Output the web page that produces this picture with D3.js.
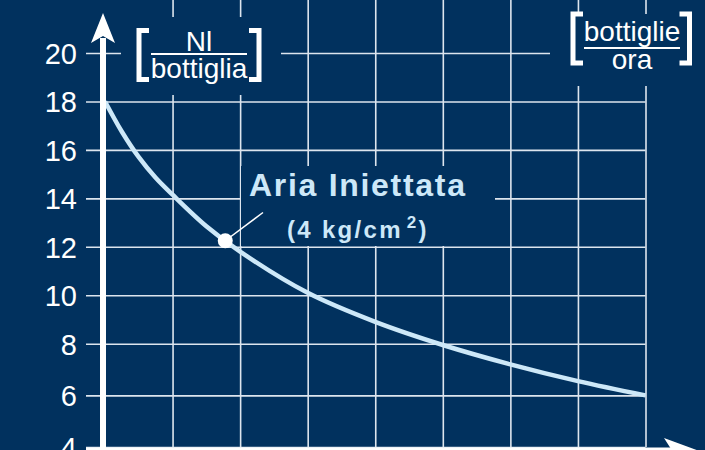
<!DOCTYPE html>
<html>
<head>
<meta charset="utf-8">
<script src="https://cdn.jsdelivr.net/npm/d3@7/dist/d3.min.js"></script>
<style>
  html, body { margin: 0; padding: 0; background: #01315e; }
  svg { display: block; }
  text { font-family: "Liberation Sans", Arial, Helvetica, sans-serif; }
</style>
</head>
<body>
<div id="chart"></div>
<script>
// tick values
var yTicks = [4, 6, 8, 10, 12, 14, 16, 18, 20];
var xGrid = [1, 2, 3, 4, 5, 6, 7, 8];

// curve values (Nl/bottiglia vs bottiglie/ora)
var curveX = [0, 0.25, 0.5, 0.75, 1, 1.5, 2, 3, 4, 5, 6, 7, 8];
var curveY = [18, 16.75, 15.7, 14.85, 14.15, 12.85, 11.8, 10.1, 8.9, 7.95, 7.2, 6.55, 6.0];

// highlighted point
var markX = [1.78];
var markY = [12.25];

var chart_width = 705;
var chart_height = 450;
var bg = '#01315e';
var grid_color = '#dde5ee';
var curve_color = '#cde8f8';

var svg = d3.select('#chart')
  .append('svg')
  .attr('width', chart_width)
  .attr('height', chart_height);

svg.append('rect')
  .attr('width', chart_width)
  .attr('height', chart_height)
  .attr('fill', bg);

// scales
var x_scale = d3.scaleLinear()
  .domain([0, 8])
  .range([105, 645.5]);

var y_scale = d3.scaleLinear()
  .domain([4, 8, 20])
  .range([447, 343.7, 53]);

// vertical grid
var x_grid = d3.axisBottom(x_scale)
  .tickValues(xGrid)
  .tickSize(-447)
  .tickFormat('');
svg.append('g')
  .attr('class', 'x-grid')
  .attr('transform', 'translate(0,447)')
  .call(x_grid)
  .call(function(g) { g.select('.domain').remove(); })
  .selectAll('line')
  .attr('stroke', grid_color)
  .attr('stroke-width', 1.6);

// horizontal grid + labels
var y_axis = d3.axisLeft(y_scale)
  .tickValues(yTicks)
  .tickSize(-(x_scale(8) - 86))
  .tickPadding(9);
var yg = svg.append('g')
  .attr('class', 'y-axis')
  .attr('transform', 'translate(86,0)')
  .call(y_axis);
yg.select('.domain').remove();
yg.selectAll('line')
  .attr('stroke', grid_color)
  .attr('stroke-width', 1.6);
yg.selectAll('text')
  .attr('fill', '#ffffff')
  .attr('font-size', 29)
  .attr('dy', '0.36em')
  .style('font-family', '"Liberation Sans", Arial, sans-serif');

// label background boxes (cover grid)
var boxes = svg.append('g').attr('fill', bg);
boxes.append('rect').attr('x', 121).attr('y', 17).attr('width', 160).attr('height', 78);
boxes.append('rect').attr('x', 550).attr('y', 14).attr('width', 155).attr('height', 72);
boxes.append('rect').attr('x', 241).attr('y', 166).attr('width', 254).attr('height', 80);

// curve
var line = d3.line()
  .x(function(d) { return x_scale(d[0]); })
  .y(function(d) { return y_scale(d[1]); })
  .curve(d3.curveCatmullRom.alpha(0.5));

svg.append('path')
  .datum(d3.zip(curveX, curveY))
  .attr('d', line)
  .attr('fill', 'none')
  .attr('stroke', curve_color)
  .attr('stroke-width', 4.5)
  .attr('stroke-linecap', 'butt');

// axes with arrows
var axes = svg.append('g').attr('fill', '#ffffff').attr('stroke', '#ffffff');
var ax0 = x_scale(0) - 2;
axes.append('line')
  .attr('x1', ax0).attr('x2', ax0)
  .attr('y1', 38).attr('y2', 456)
  .attr('stroke-width', 6);
axes.append('path')
  .attr('stroke', 'none')
  .attr('d', 'M' + ax0 + ',13 L' + (ax0 + 12) + ',43 L' + ax0 + ',36 L' + (ax0 - 12) + ',43 Z');
axes.append('line')
  .attr('x1', 86).attr('x2', 676)
  .attr('y1', 450.5).attr('y2', 450.5)
  .attr('stroke-width', 6);
axes.append('path')
  .attr('stroke', 'none')
  .attr('d', 'M698,450.5 L664,438 L672,450.5 L664,463 Z');

// highlighted point + leader
svg.append('line')
  .attr('x1', x_scale(markX[0])).attr('y1', y_scale(markY[0]))
  .attr('x2', 263).attr('y2', 212.5)
  .attr('stroke', '#ffffff')
  .attr('stroke-width', 1.5);
svg.selectAll('circle.mark')
  .data(d3.zip(markX, markY))
  .enter()
  .append('circle')
  .attr('class', 'mark')
  .attr('cx', function(d) { return x_scale(d[0]); })
  .attr('cy', function(d) { return y_scale(d[1]); })
  .attr('r', 7.5)
  .attr('fill', '#ffffff');

// series label
svg.append('text')
  .attr('x', 249).attr('y', 196)
  .attr('fill', curve_color)
  .attr('font-size', 32)
  .attr('font-weight', 'bold')
  .attr('letter-spacing', 1.7)
  .text('Aria Iniettata');

var sub = svg.append('text')
  .attr('x', 287).attr('y', 238)
  .attr('fill', curve_color)
  .attr('font-size', 24)
  .attr('font-weight', 'bold')
  .attr('letter-spacing', 2.3);
sub.append('tspan').text('(4 kg/cm');
sub.append('tspan').attr('dx', 4).attr('dy', -10).attr('font-size', 17).text('2');
sub.append('tspan').attr('dy', 10).text(')');

// unit labels with brackets
function bracketLabel(cx, top, bottom, x0, x1, num, den, numY, denY, ruleY) {
  var g = svg.append('g');
  g.append('path')
    .attr('fill', 'none')
    .attr('stroke', '#ffffff')
    .attr('stroke-width', 5)
    .attr('d', 'M' + (x0 + 10) + ',' + top + ' H' + x0 + ' V' + bottom + ' H' + (x0 + 10) +
      ' M' + (x1 - 10) + ',' + top + ' H' + x1 + ' V' + bottom + ' H' + (x1 - 10));
  g.append('line')
    .attr('x1', cx - 48).attr('x2', cx + 48)
    .attr('y1', ruleY).attr('y2', ruleY)
    .attr('stroke', '#ffffff')
    .attr('stroke-width', 2);
  g.append('text')
    .attr('x', cx).attr('y', numY)
    .attr('text-anchor', 'middle')
    .attr('fill', '#ffffff')
    .attr('font-size', 28)
    .text(num);
  g.append('text')
    .attr('x', cx).attr('y', denY)
    .attr('text-anchor', 'middle')
    .attr('fill', '#ffffff')
    .attr('font-size', 28)
    .text(den);
}
bracketLabel(199, 30.5, 79.5, 139, 259, 'Nl', 'bottiglia', 51, 78, 54);
bracketLabel(632, 14, 63, 573, 689.5, 'bottiglie', 'ora', 40.5, 68.5, 48);
</script>
</body>
</html>
